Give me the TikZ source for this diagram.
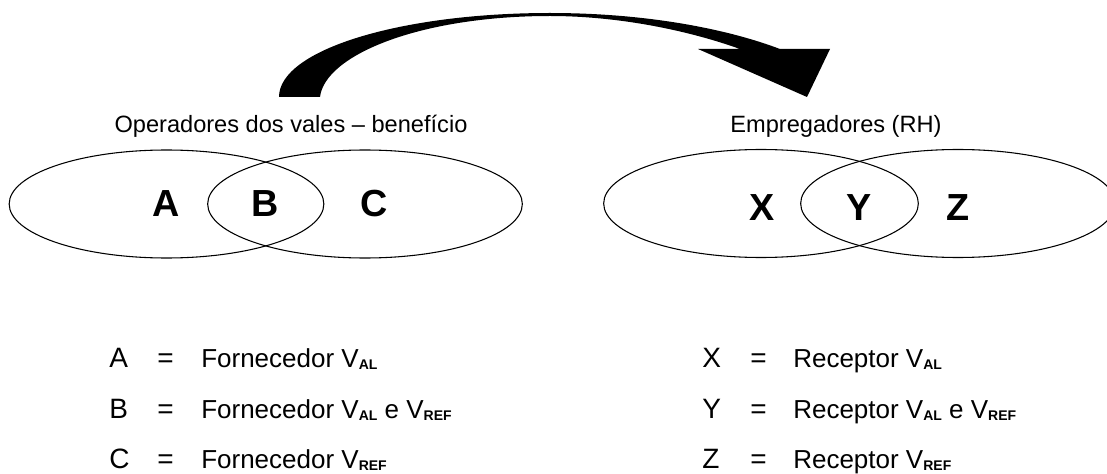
\documentclass[tikz,border=0pt]{standalone}
\usepackage{fontspec}
\setmainfont{Liberation Sans}
\usetikzlibrary{shapes.geometric}
\newcommand{\vsub}[1]{\raisebox{-1.8pt}{\fontsize{10.5pt}{11pt}\selectfont\bfseries #1}}
\begin{document}
\begin{tikzpicture}[
        x=0.75pt, y=-0.75pt,
        venn/.style={draw, ellipse, line width=0.8pt, inner sep=0pt,
            minimum width=236pt, minimum height=81pt},
        vennlbl/.style={font=\fontsize{28.3pt}{30pt}\selectfont\bfseries, anchor=base, inner sep=0pt},
        grptitle/.style={font=\fontsize{17.7pt}{20pt}\selectfont, anchor=base, inner sep=0pt},
        legkey/.style={font=\fontsize{21pt}{24pt}\selectfont, anchor=base west, inner sep=0pt},
        legtxt/.style={font=\fontsize{19.5pt}{22pt}\selectfont, anchor=base west, inner sep=0pt}
    ]
    \useasboundingbox (0,0) rectangle (1107,474);
    \clip (0,0) rectangle (1107,474);
    % curved arrow
    \fill (279,97) .. controls (279,50) and (400,13) .. (550,13)
        .. controls (650,13) and (730,30) .. (780,49) -- (830,49) -- (807,97) -- (698,49) -- (740,49)
        .. controls (690,31) and (620,16) .. (550,16)
        .. controls (420,16) and (325,55) .. (320,97) -- cycle;
    % titles
    \node[grptitle] (titop) at (291,133) {Operadores dos vales – benefício};
    \node[grptitle] (titemp) at (836,133) {Empregadores (RH)};
    % venn sets
    \node[venn] (opL) at (166.5,204) {};
    \node[venn] (opR) at (365,204) {};
    \node[venn] (empL) at (761,203.5) {};
    \node[venn] (empR) at (958,203.5) {};
    \node[vennlbl] (lblA) at (166,217) {A};
    \node[vennlbl] (lblB) at (265,217) {B};
    \node[vennlbl] (lblC) at (374,217) {C};
    \node[vennlbl] (lblX) at (762,221) {X};
    \node[vennlbl] (lblY) at (859,221) {Y};
    \node[vennlbl] (lblZ) at (958,221) {Z};
    % legend
    \node[legkey] (keyA) at (109,367) {A};
    \node[legkey] (eqA) at (157,367) {=};
    \node[legtxt] (txtA) at (201,367) {Fornecedor V\vsub{AL}};
    \node[legkey] (keyB) at (109,418) {B};
    \node[legkey] (eqB) at (157,418) {=};
    \node[legtxt] (txtB) at (201,418) {Fornecedor V\vsub{AL} e V\vsub{REF}};
    \node[legkey] (keyC) at (109,468) {C};
    \node[legkey] (eqC) at (157,468) {=};
    \node[legtxt] (txtC) at (201,468) {Fornecedor V\vsub{REF}};
    \node[legkey] (keyX) at (702,367) {X};
    \node[legkey] (eqX) at (750,367) {=};
    \node[legtxt] (txtX) at (793,367) {Receptor V\vsub{AL}};
    \node[legkey] (keyY) at (702,418) {Y};
    \node[legkey] (eqY) at (750,418) {=};
    \node[legtxt] (txtY) at (793,418) {Receptor V\vsub{AL} e V\vsub{REF}};
    \node[legkey] (keyZ) at (702,468) {Z};
    \node[legkey] (eqZ) at (750,468) {=};
    \node[legtxt] (txtZ) at (793,468) {Receptor V\vsub{REF}};
\end{tikzpicture}
\end{document}
